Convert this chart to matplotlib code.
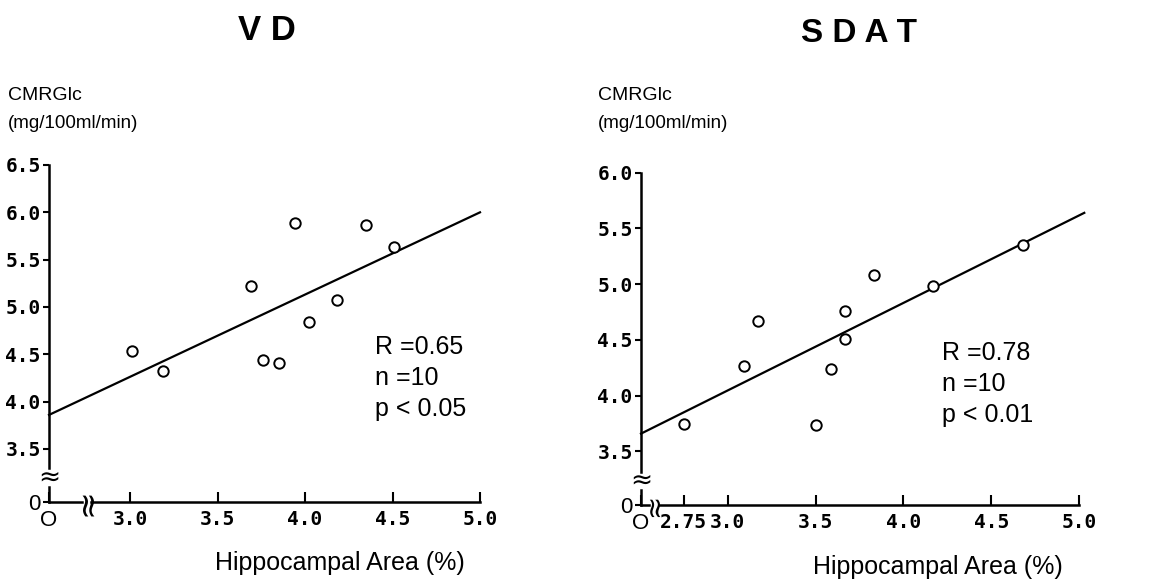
import numpy as np
import matplotlib
matplotlib.use("Agg")
import matplotlib.pyplot as plt

# VD panel data
vd_x = [3.01, 3.19, 3.69, 3.76, 3.85, 3.94, 4.02, 4.18, 4.35, 4.51]
vd_y = [4.53, 4.32, 5.22, 4.44, 4.41, 5.89, 4.84, 5.07, 5.87, 5.63]
vd_fit_x = [2.537, 5.0]
vd_fit_y = [3.86, 6.0]
vd_xticks = [3.0, 3.5, 4.0, 4.5, 5.0]
vd_yticks = [3.5, 4.0, 4.5, 5.0, 5.5, 6.0, 6.5]
vd_stats = ["R =0.65", "n =10", "p < 0.05"]

# SDAT panel data
sdat_x = [2.75, 3.09, 3.17, 3.50, 3.59, 3.67, 3.67, 3.83, 4.17, 4.68]
sdat_y = [3.75, 4.27, 4.67, 3.74, 4.24, 4.76, 4.51, 5.08, 4.98, 5.35]
sdat_fit_x = [2.506, 5.03]
sdat_fit_y = [3.66, 5.64]
sdat_xticks = [2.75, 3.0, 3.5, 4.0, 4.5, 5.0]
sdat_yticks = [3.5, 4.0, 4.5, 5.0, 5.5, 6.0]
sdat_stats = ["R =0.78", "n =10", "p < 0.01"]

W, H = 1156, 588
fig = plt.figure(figsize=(W / 100, H / 100), dpi=100)
sans = "Liberation Sans"
mono = "DejaVu Sans Mono"


def px_axes(x0, x1, ytop, ybot):
    return fig.add_axes([x0 / W, (H - ybot) / H, (x1 - x0) / W, (ybot - ytop) / H])


def panel(ax, xs, ys, fx, fy, xticks, yticks, xlim, ylim, ybrk, xbrk, stats, spos, xsq=24):
    ax.set_xlim(*xlim)
    ax.set_ylim(*ylim)
    for s in ["top", "right"]:
        ax.spines[s].set_visible(False)
    ax.spines["left"].set_bounds(ybrk[1], ylim[1])
    ax.spines["bottom"].set_bounds(xbrk[1], xlim[1])
    for s in ["left", "bottom"]:
        ax.spines[s].set_linewidth(1.8)
    # short pieces below / left of the breaks
    ax.plot([xlim[0], xlim[0]], [ylim[0], ybrk[0]], color="black", lw=1.8, clip_on=False)
    ax.plot([xlim[0], xbrk[0]], [ylim[0], ylim[0]], color="black", lw=1.8, clip_on=False)
    ax.text(xlim[0], (ybrk[0] + ybrk[1]) / 2, "≈", ha="center", va="center",
            fontsize=19, family="DejaVu Sans")
    ax.text((xbrk[0] + xbrk[1]) / 2, ylim[0], "≈", ha="center", va="center",
            fontsize=xsq, rotation=90, family="DejaVu Sans")

    ax.plot(fx, fy, color="black", lw=1.6, clip_on=False)
    ax.plot(xs, ys, "o", ms=7.5, mfc="white", mec="black", mew=1.4, clip_on=False)

    ax.set_xticks([xlim[0]] + xticks)
    ax.set_xticklabels(["O"] + [("%.2f" % v) if v == 2.75 else ("%.1f" % v) for v in xticks])
    ax.set_yticks([ylim[0]] + yticks)
    ax.set_yticklabels(["0"] + ["%.1f" % v for v in yticks])
    ax.tick_params(axis="x", direction="in", length=7, width=1.5, pad=6)
    ax.tick_params(axis="y", direction="out", length=4, width=1.5, pad=2)
    for lab in ax.get_xticklabels() + ax.get_yticklabels():
        lab.set_family(mono)
        lab.set_fontsize(14)
        lab.set_fontweight("bold")
    for lab in [ax.get_xticklabels()[0], ax.get_yticklabels()[0]]:
        lab.set_family(sans)
        lab.set_fontsize(16)
        lab.set_fontweight("normal")
    ax.set_facecolor("none")

    for i, t in enumerate(stats):
        fig.text(spos[0] / W, 1 - (spos[1] + i * 31) / H, t, ha="left", va="center",
                 fontsize=18, family=sans)


ax1 = px_axes(49, 480, 165, 502)
panel(ax1, vd_x, vd_y, vd_fit_x, vd_fit_y, vd_xticks, vd_yticks,
      (2.537, 5.0), (2.94, 6.5), (3.10, 3.30), (2.725, 2.777), vd_stats, (375, 347))

ax2 = px_axes(641, 1079, 172.7, 505)
panel(ax2, sdat_x, sdat_y, sdat_fit_x, sdat_fit_y, sdat_xticks, sdat_yticks,
      (2.506, 5.0), (3.02, 6.0), (3.154, 3.316), (2.55, 2.61), sdat_stats, (942, 353), xsq=20)

# titles and axis labels
fig.text(267 / W, 1 - 30 / H, "V D", ha="center", va="center", fontsize=25,
         fontweight="bold", family=sans)
fig.text(859 / W, 1 - 34 / H, "S D A T", ha="center", va="center", fontsize=24,
         fontweight="bold", family=sans)
for x0 in [8, 598]:
    fig.text(x0 / W, 1 - 96 / H, "CMRGlc", ha="left", va="center", fontsize=14, family=sans)
    fig.text(x0 / W, 1 - 124 / H, "(mg/100ml/min)", ha="left", va="center", fontsize=13.5,
             family=sans)
fig.text(340 / W, 1 - 563 / H, "Hippocampal Area (%)", ha="center", va="center",
         fontsize=18, family=sans)
fig.text(938 / W, 1 - 567 / H, "Hippocampal Area (%)", ha="center", va="center",
         fontsize=18, family=sans)

fig.savefig("out.png", dpi=100)
